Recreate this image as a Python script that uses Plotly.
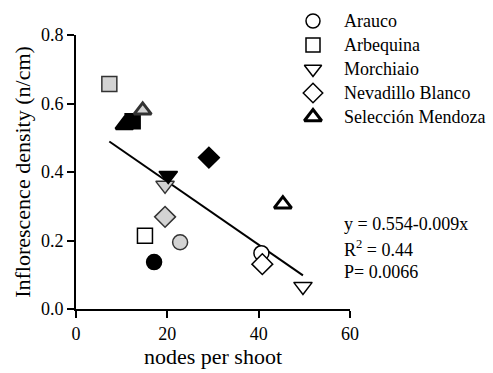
import plotly.graph_objects as go

cultivars = ["Arauco", "Arbequina", "Morchiaio", "Nevadillo Blanco", "Selección Mendoza"]
symbols = ["circle", "square", "triangle-down", "diamond", "triangle-up"]
# three points per cultivar: white, gray, black
nodes = {
    "Arauco": [40.6, 22.8, 17.1],
    "Arbequina": [15.1, 7.3, 12.4],
    "Morchiaio": [49.7, 19.5, 20.2],
    "Nevadillo Blanco": [40.8, 19.5, 29.1],
    "Selección Mendoza": [45.3, 14.6, 10.6],
}
density = {
    "Arauco": [0.163, 0.195, 0.137],
    "Arbequina": [0.214, 0.657, 0.548],
    "Morchiaio": [0.066, 0.361, 0.390],
    "Nevadillo Blanco": [0.131, 0.269, 0.442],
    "Selección Mendoza": [0.306, 0.580, 0.537],
}
fills = ["white", "#d3d3d3", "black"]
edges = ["black", "#333333", "black"]

fit_x = [7.3, 49.7]
fit_y = [0.489, 0.098]

stats_lines = ["y = 0.554-0.009x", "R<sup>2</sup> = 0.44", "P= 0.0066"]

FONT = "Liberation Serif"

# figure geometry (pixels)
W, H = 493, 373
ML, MR, MT, MB = 76, 143, 8, 64
PLOT_TOP = 35  # pixel row of y = 0.8
plot_h = H - MT - MB
x_px = [ML, W - MR]
y_px = [H - MB, MT]

fig = go.Figure()

fig.add_trace(go.Scatter(x=fit_x, y=fit_y, mode="lines",
                         line=dict(color="black", width=2), showlegend=False))

sizes = {"circle": 15, "square": 15, "triangle-down": 16, "diamond": 16, "triangle-up": 15}
for c, s in zip(cultivars, symbols):
    bold = c == "Selección Mendoza"
    lw = 3 if bold else 1.5
    for k in range(3):
        fig.add_trace(go.Scatter(
            x=[nodes[c][k]], y=[density[c][k]], mode="markers",
            marker=dict(symbol=s, size=sizes[s], color=fills[k],
                        line=dict(color=edges[k], width=lw)),
            showlegend=False))

# manual legend on a separate pixel-coordinate subplot spanning the whole plot region
leg_sym_x = 313
leg_txt_x = 342
leg_rows = [21, 45, 69, 93, 117]
for c, s, yy in zip(cultivars, symbols, leg_rows):
    bold = c == "Selección Mendoza"
    fig.add_trace(go.Scatter(
        x=[leg_sym_x], y=[yy], mode="markers", xaxis="x2", yaxis="y2",
        marker=dict(symbol=s, size=14 if s in ("circle", "square") else 15,
                    color="white", line=dict(color="black", width=3 if bold else 1.5)),
        cliponaxis=False, showlegend=False, hoverinfo="skip"))
    fig.add_annotation(xref="x2", yref="y2", x=leg_txt_x, y=yy, text=c,
                       xanchor="left", yanchor="middle", showarrow=False,
                       font=dict(family=FONT, size=18, color="black"))

for txt, yy in zip(stats_lines, [224, 248, 272]):
    fig.add_annotation(xref="x2", yref="y2", x=leg_txt_x, y=yy, text=txt,
                       xanchor="left", yanchor="middle", showarrow=False,
                       font=dict(family=FONT, size=18, color="black"))

axis_common = dict(showline=True, linecolor="black", linewidth=2, ticks="outside",
                   ticklen=7, tickwidth=2, tickcolor="black", showgrid=False,
                   zeroline=False, automargin=False,
                   tickfont=dict(family=FONT, size=18, color="black"))

fig.update_layout(
    width=W, height=H,
    font=dict(family=FONT, color="black"),
    margin=dict(l=ML, r=MR, t=MT, b=MB),
    plot_bgcolor="rgba(0,0,0,0)", paper_bgcolor="white",
    xaxis=dict(range=[0, 60], tickvals=[0, 20, 40, 60], domain=[0, 1],
               title=dict(text="nodes per shoot", font=dict(family=FONT, size=22, color="black"),
                          standoff=4),
               **axis_common),
    yaxis=dict(range=[0, 0.8], tickvals=[0, 0.2, 0.4, 0.6, 0.8], tickformat=".1f",
               domain=[0, (H - MB - PLOT_TOP) / plot_h],
               title=dict(text="Inflorescence density (n/cm)",
                          font=dict(family=FONT, size=22, color="black"), standoff=4),
               **axis_common),
    xaxis2=dict(range=x_px, domain=[0, 1], anchor="y2", visible=False, fixedrange=True),
    yaxis2=dict(range=y_px, domain=[0, 1], anchor="x2", visible=False, fixedrange=True),
    showlegend=False,
)

fig.write_html("out.html", config={"displayModeBar": False},
               post_script="document.body.style.margin='0';document.body.style.overflow='hidden';")
